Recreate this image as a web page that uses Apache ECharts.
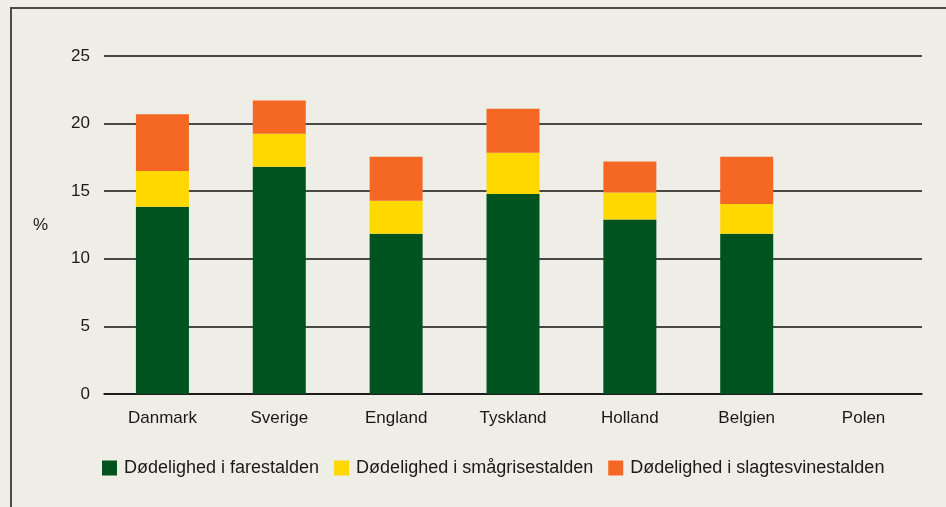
<!DOCTYPE html>
<html>
<head>
<meta charset="utf-8">
<script src="https://cdn.jsdelivr.net/npm/echarts@6/dist/echarts.min.js"></script>
<style>
  html, body { margin: 0; padding: 0; background: #eeede6; }
  #frame { position: absolute; left: 10px; top: 7px; width: 960px; height: 520px;
           border-left: 2px solid #4a4a48; border-top: 2px solid #4a4a48; }
  #chart { position: absolute; left: 0; top: 0; width: 946px; height: 507px; }
</style>
</head>
<body>
<div id="frame"></div>
<div id="chart"></div>
<script>
const countries = ['Danmark', 'Sverige', 'England', 'Tyskland', 'Holland', 'Belgien', 'Polen'];
const farestald = [13.85, 16.8, 11.85, 14.8, 12.9, 11.85, null];
const smaagrisestald = [2.65, 2.45, 2.45, 3.05, 2.0, 2.2, null];
const slagtesvinestald = [4.2, 2.45, 3.25, 3.25, 2.3, 3.5, null];
const yTicks = [0, 5, 10, 15, 20, 25];

const fontFamily = '"Liberation Sans Narrow", "Liberation Sans", Arial, sans-serif';

let myChart = echarts.init(document.getElementById('chart'));
myChart.setOption({
  backgroundColor: 'transparent',
  textStyle: { fontFamily: fontFamily },
  grid: { left: 104, right: 24, top: 56, bottom: 113 },
  legend: {
    left: 97,
    top: 454,
    itemWidth: 15,
    itemHeight: 15,
    itemGap: 15,
    icon: 'rect',
    textStyle: { fontSize: 18, color: '#1a1a1a', fontFamily: fontFamily, padding: [0, 0, 0, 2] },
    data: ['Dødelighed i farestalden', 'Dødelighed i smågrisestalden', 'Dødelighed i slagtesvinestalden']
  },
  xAxis: {
    type: 'category',
    data: countries,
    axisLine: { show: true, lineStyle: { color: '#111', width: 1.5 } },
    axisTick: { show: false },
    axisLabel: { fontSize: 17, color: '#1a1a1a', margin: 16 }
  },
  yAxis: {
    type: 'value',
    min: yTicks[0],
    max: yTicks[yTicks.length - 1],
    interval: 5,
    name: '%',
    nameLocation: 'middle',
    nameRotate: 0,
    nameGap: 56,
    nameTextStyle: { fontSize: 17, color: '#1a1a1a' },
    axisLine: { show: false },
    axisTick: { show: false },
    axisLabel: { fontSize: 17, color: '#1a1a1a', margin: 14 },
    splitLine: { lineStyle: { color: '#111', width: 1.5 } }
  },
  series: [
    {
      name: 'Dødelighed i farestalden',
      type: 'bar',
      stack: 'total',
      barWidth: 53,
      itemStyle: { color: '#00531f' },
      data: farestald
    },
    {
      name: 'Dødelighed i smågrisestalden',
      type: 'bar',
      stack: 'total',
      barWidth: 53,
      itemStyle: { color: '#ffd800' },
      data: smaagrisestald
    },
    {
      name: 'Dødelighed i slagtesvinestalden',
      type: 'bar',
      stack: 'total',
      barWidth: 53,
      itemStyle: { color: '#f46824' },
      data: slagtesvinestald
    }
  ]
});
</script>
</body>
</html>
